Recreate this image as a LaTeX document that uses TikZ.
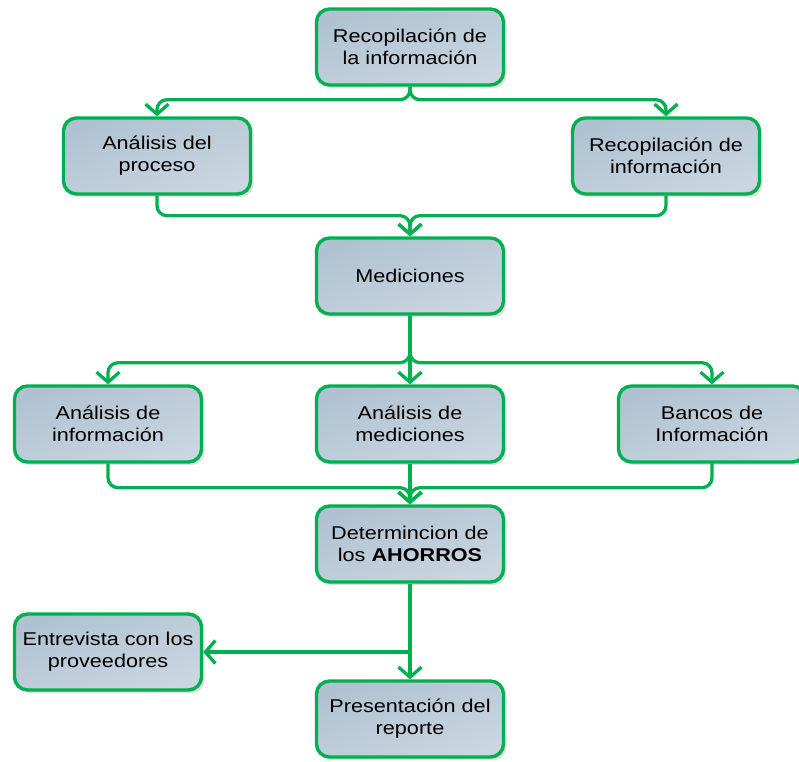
\documentclass[tikz,border=0pt]{standalone}
\usepackage{fontspec}
\setmainfont{Liberation Sans}[FakeStretch=1.17]
\usetikzlibrary{arrows.meta}
\usetikzlibrary{shadows}
\definecolor{linegreen}{RGB}{0,176,80}
\definecolor{boxdark}{RGB}{176,194,210}
\definecolor{boxlight}{RGB}{202,214,224}
\begin{document}
\begin{tikzpicture}[x=1pt,y=1pt,
% boxes of the chart
box/.style={draw=linegreen, line width=3.4pt, rounded corners=13pt,
    top color=boxdark, bottom color=boxlight, shading angle=20,
    drop shadow={shadow xshift=3pt, shadow yshift=-3pt, fill=black!25},
    minimum width=187pt, minimum height=76pt, align=center,
    font=\fontsize{18.5}{22}\selectfont},
% green connectors (open arrow heads)
conn/.style={draw=linegreen, line width=3.3pt, rounded corners=10pt},
tip/.style={-{Straight Barb[length=10pt,width=23pt]}}]
\useasboundingbox (0,0) rectangle (799,-761);
% nodes
\node[box] (rec)  at (410,-47)  {Recopilación de\\la información};
\node[box] (ana)  at (157,-156) {Análisis del\\proceso};
\node[box] (rinf) at (666,-156) {Recopilación de\\información};
\node[box] (med)  at (410,-276) {Mediciones};
\node[box] (ainf) at (108,-424) {Análisis de\\información};
\node[box] (amed) at (410,-424) {Análisis de\\mediciones};
\node[box] (ban)  at (712,-424) {Bancos de\\Información};
\node[box] (aho)  at (410,-544) {Determincion de\\los \textbf{AHORROS}};
\node[box] (ent)  at (108,-652) {Entrevista con los\\proveedores};
\node[box] (pre)  at (410,-719) {Presentación del\\reporte};
% split from the top
\draw[conn,tip] (rec.south) -- ++(0,-13) -| (ana.north);
\draw[conn,tip] (rec.south) -- ++(0,-13) -| (rinf.north);
% merge into Mediciones
\draw[conn,tip] (ana.south) -- ++(0,-20) -| (med.north);
\draw[conn,tip] (rinf.south) -- ++(0,-20) -| (med.north);
% split from Mediciones
\draw[conn,tip] (med.south) -- ++(0,-47) -| (ainf.north);
\draw[conn,tip] (med.south) -- (amed.north);
\draw[conn,tip] (med.south) -- ++(0,-47) -| (ban.north);
% merge into the savings
\draw[conn,tip] (ainf.south) -- ++(0,-24) -| (aho.north);
\draw[conn,tip] (amed.south) -- (aho.north);
\draw[conn,tip] (ban.south) -- ++(0,-24) -| (aho.north);
% last step
\coordinate (split) at (aho.south |- ent.east);
\draw[conn,tip] (aho.south) -- (pre.north);
\draw[conn,tip] (split) -- (ent.east);
\end{tikzpicture}
\end{document}
